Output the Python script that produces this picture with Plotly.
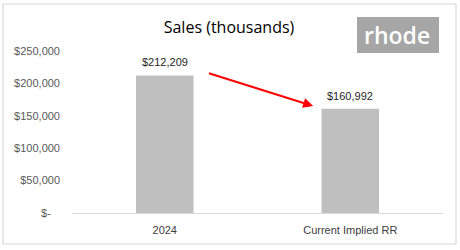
import plotly.graph_objects as go

categories = ["2024", "Current Implied RR"]
sales = [212209, 160992]
tick_vals = [0, 50000, 100000, 150000, 200000, 250000]
tick_text = ["$-\u00a0\u00a0\u00a0", "$50,000", "$100,000", "$150,000", "$200,000", "$250,000"]
value_labels = ["$212,209", "$160,992"]

fig = go.Figure()
fig.add_trace(go.Bar(
    x=categories, y=sales, width=0.31,
    marker=dict(color="#bfbfbf", line=dict(width=0)),
    hoverinfo="skip",
))

for i, (v, lab) in enumerate(zip(sales, value_labels)):
    fig.add_annotation(x=i, y=v, xref="x", yref="y", text=lab, showarrow=False,
                       yanchor="bottom", yshift=5,
                       font=dict(family="Liberation Sans", size=11, color="#262626"))

# arrow from first bar value toward second bar value
fig.add_annotation(
    x=0.8, y=sales[1] * 1.025, ax=0.23, ay=sales[0] * 1.02,
    xref="x", yref="y", axref="x", ayref="y",
    showarrow=True, arrowhead=2, arrowsize=1, arrowwidth=2, arrowcolor="#ff0000",
    text="",
)

fig.update_layout(
    width=460, height=250,
    margin=dict(l=72, r=17, t=51, b=37),
    paper_bgcolor="white", plot_bgcolor="white",
    showlegend=False,
    title=dict(text="Sales (thousands)", x=229/460, xanchor="center", y=1-27/250, yanchor="middle",
               font=dict(family="Open Sans", size=16, color="#000000")),
    xaxis=dict(type="category", range=[-0.5, 1.5], showline=True, linecolor="#d9d9d9", linewidth=1,
               showgrid=False, ticks="", ticklabelstandoff=7,
               tickfont=dict(family="Liberation Sans", size=11, color="#404040")),
    yaxis=dict(range=[0, 250000], tickvals=tick_vals, ticktext=tick_text, showgrid=False,
               zeroline=False, showline=False, ticks="", ticklabelstandoff=11,
               tickfont=dict(family="Liberation Sans", size=11, color="#595959")),
    shapes=[
        dict(type="rect", xref="paper", yref="paper", x0=-69/371, x1=(456-72)/371,
             y0=-(244-213)/162, y1=1+(51-4)/162, line=dict(color="#d9d9d9", width=1.2),
             fillcolor="rgba(0,0,0,0)", layer="below"),
        dict(type="rect", xref="paper", yref="paper", x0=(357-72)/371, x1=(439-72)/371,
             y0=(213-53)/162, y1=(213-17)/162, line=dict(width=0), fillcolor="#a6a6a6"),
    ],
)
fig.add_annotation(
    x=(397-72)/371, y=(213-35)/162, xref="paper", yref="paper",
    text="rhode", showarrow=False, xanchor="center", yanchor="middle",
    font=dict(family="Open Sans", size=23, color="white", weight=600),
)

fig.write_html("out.html")
